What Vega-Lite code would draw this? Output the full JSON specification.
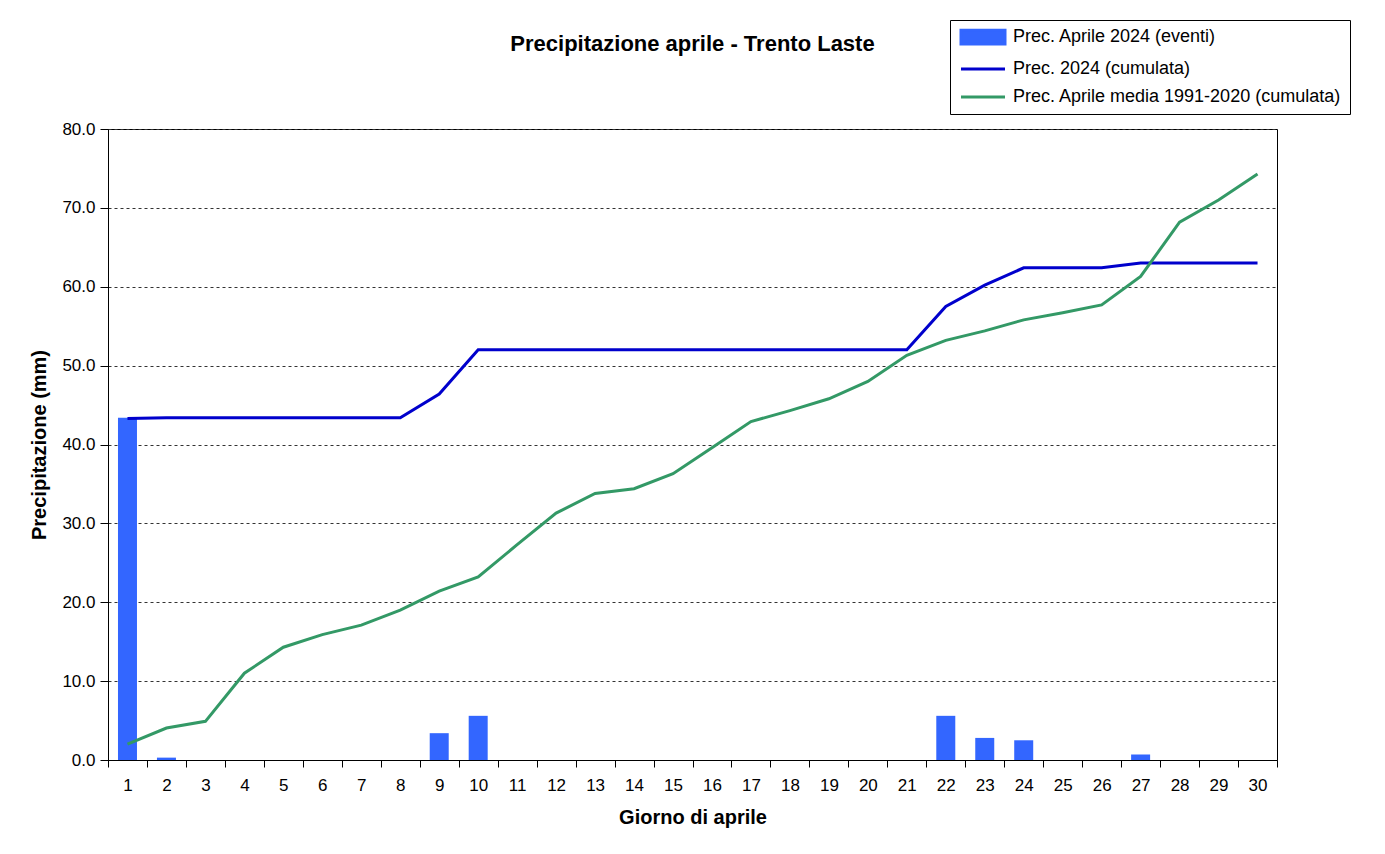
{
  "$schema": "https://vega.github.io/schema/vega-lite/v6.json",
  "autosize": "none",
  "width": 1169,
  "height": 631,
  "padding": {"left": 108, "top": 129, "right": 108, "bottom": 94},
  "background": "white",
  "config": {
    "font": "Liberation Sans",
    "view": {"stroke": "black", "strokeWidth": 1},
    "axisY": {
      "titleFont": "Liberation Sans",
      "titleFontSize": 20,
      "titleFontWeight": "bold",
      "titleColor": "black",
      "titlePadding": 12,
      "labelFont": "Liberation Sans",
      "labelFontSize": 17,
      "labelColor": "black",
      "labelPadding": 5,
      "tickSize": 8,
      "tickColor": "black",
      "domainColor": "black",
      "grid": true,
      "gridColor": "#333333",
      "gridDash": [3, 3],
      "gridWidth": 1
    }
  },
  "title": {
    "text": "Precipitazione aprile - Trento Laste",
    "font": "Liberation Sans",
    "fontSize": 22,
    "fontWeight": "bold",
    "color": "black",
    "anchor": "middle",
    "offset": -36
  },
  "data": {
    "values": [
      {"giorno": 1, "eventi": 43.4, "cum2024": 43.3, "media": 2.0},
      {"giorno": 2, "eventi": 0.3, "cum2024": 43.4, "media": 4.05},
      {"giorno": 3, "eventi": 0, "cum2024": 43.4, "media": 4.9},
      {"giorno": 4, "eventi": 0, "cum2024": 43.4, "media": 11.0},
      {"giorno": 5, "eventi": 0, "cum2024": 43.4, "media": 14.3},
      {"giorno": 6, "eventi": 0, "cum2024": 43.4, "media": 15.9},
      {"giorno": 7, "eventi": 0, "cum2024": 43.4, "media": 17.1},
      {"giorno": 8, "eventi": 0, "cum2024": 43.4, "media": 19.0},
      {"giorno": 9, "eventi": 3.4, "cum2024": 46.4, "media": 21.4},
      {"giorno": 10, "eventi": 5.6, "cum2024": 52.0, "media": 23.2},
      {"giorno": 11, "eventi": 0, "cum2024": 52.0, "media": 27.3},
      {"giorno": 12, "eventi": 0, "cum2024": 52.0, "media": 31.3},
      {"giorno": 13, "eventi": 0, "cum2024": 52.0, "media": 33.8},
      {"giorno": 14, "eventi": 0, "cum2024": 52.0, "media": 34.4},
      {"giorno": 15, "eventi": 0, "cum2024": 52.0, "media": 36.3},
      {"giorno": 16, "eventi": 0, "cum2024": 52.0, "media": 39.6},
      {"giorno": 17, "eventi": 0, "cum2024": 52.0, "media": 42.9},
      {"giorno": 18, "eventi": 0, "cum2024": 52.0, "media": 44.3},
      {"giorno": 19, "eventi": 0, "cum2024": 52.0, "media": 45.8},
      {"giorno": 20, "eventi": 0, "cum2024": 52.0, "media": 48.0},
      {"giorno": 21, "eventi": 0, "cum2024": 52.0, "media": 51.3},
      {"giorno": 22, "eventi": 5.6, "cum2024": 57.5, "media": 53.2},
      {"giorno": 23, "eventi": 2.8, "cum2024": 60.2, "media": 54.4},
      {"giorno": 24, "eventi": 2.5, "cum2024": 62.4, "media": 55.8},
      {"giorno": 25, "eventi": 0, "cum2024": 62.4, "media": 56.7},
      {"giorno": 26, "eventi": 0, "cum2024": 62.4, "media": 57.7},
      {"giorno": 27, "eventi": 0.7, "cum2024": 63.0, "media": 61.3},
      {"giorno": 28, "eventi": 0, "cum2024": 63.0, "media": 68.2},
      {"giorno": 29, "eventi": 0, "cum2024": 63.0, "media": 71.0},
      {"giorno": 30, "eventi": 0, "cum2024": 63.0, "media": 74.3}
    ]
  },
  "encoding": {
    "x": {
      "field": "giorno",
      "type": "ordinal",
      "scale": {"paddingInner": 0, "paddingOuter": 0},
      "axis": {
        "title": "Giorno di aprile",
        "titleFont": "Liberation Sans",
        "titleFontSize": 20,
        "titleFontWeight": "bold",
        "titleColor": "black",
        "titlePadding": 14,
        "labelAngle": 0,
        "labelFont": "Liberation Sans",
        "labelFontSize": 17,
        "labelColor": "black",
        "labelPadding": 10,
        "tickBand": "extent",
        "tickSize": 7,
        "tickColor": "black",
        "domainColor": "black",
        "grid": false
      }
    }
  },
  "layer": [
    {
      "mark": {"type": "bar", "color": "#3366FF", "size": 19},
      "encoding": {
        "y": {
          "field": "eventi",
          "type": "quantitative",
          "scale": {"domain": [0, 80], "nice": false},
          "axis": {
            "title": "Precipitazione (mm)",
            "format": ".1f",
            "values": [0, 10, 20, 30, 40, 50, 60, 70, 80]
          }
        },
        "color": {
          "datum": "Prec. Aprile 2024 (eventi)",
          "scale": {
            "domain": ["Prec. Aprile 2024 (eventi)", "Prec. 2024 (cumulata)", "Prec. Aprile media 1991-2020 (cumulata)"],
            "range": ["#3366FF", "#0000CC", "#339966"]
          },
          "legend": {
            "title": null,
            "orient": "none",
            "legendX": 842,
            "legendY": -109,
            "strokeColor": "black",
            "fillColor": "white",
            "padding": 8,
            "labelFont": "Liberation Sans",
            "labelFontSize": 18,
            "labelColor": "black",
            "labelLimit": 420,
            "symbolSize": 121,
            "symbolOffset": 16,
            "labelOffset": 21,
            "rowPadding": 10,
            "encode": {
              "symbols": {
                "update": {
                  "shape": [
                    {"test": "datum.value === 'Prec. Aprile 2024 (eventi)'", "value": "M-4,-1.25H4V1.25H-4Z"},
                    {"value": "M-4,0H4"}
                  ],
                  "fill": [
                    {"test": "datum.value === 'Prec. Aprile 2024 (eventi)'", "value": "#3366FF"},
                    {"value": "transparent"}
                  ],
                  "stroke": [
                    {"test": "datum.value === 'Prec. Aprile 2024 (eventi)'", "value": "transparent"},
                    {"test": "datum.value === 'Prec. 2024 (cumulata)'", "value": "#0000CC"},
                    {"value": "#339966"}
                  ],
                  "strokeWidth": {"value": 3},
                  "opacity": {"value": 1},
                  "fillOpacity": {"value": 1},
                  "strokeOpacity": {"value": 1}
                }
              }
            }
          }
        }
      }
    },
    {
      "mark": {"type": "line", "strokeWidth": 3},
      "encoding": {
        "y": {
          "field": "cum2024",
          "type": "quantitative",
          "axis": {
            "title": "Precipitazione (mm)",
            "format": ".1f",
            "values": [0, 10, 20, 30, 40, 50, 60, 70, 80]
          }
        },
        "color": {"datum": "Prec. 2024 (cumulata)"}
      }
    },
    {
      "mark": {"type": "line", "strokeWidth": 3},
      "encoding": {
        "y": {
          "field": "media",
          "type": "quantitative",
          "axis": {
            "title": "Precipitazione (mm)",
            "format": ".1f",
            "values": [0, 10, 20, 30, 40, 50, 60, 70, 80]
          }
        },
        "color": {"datum": "Prec. Aprile media 1991-2020 (cumulata)"}
      }
    }
  ]
}
